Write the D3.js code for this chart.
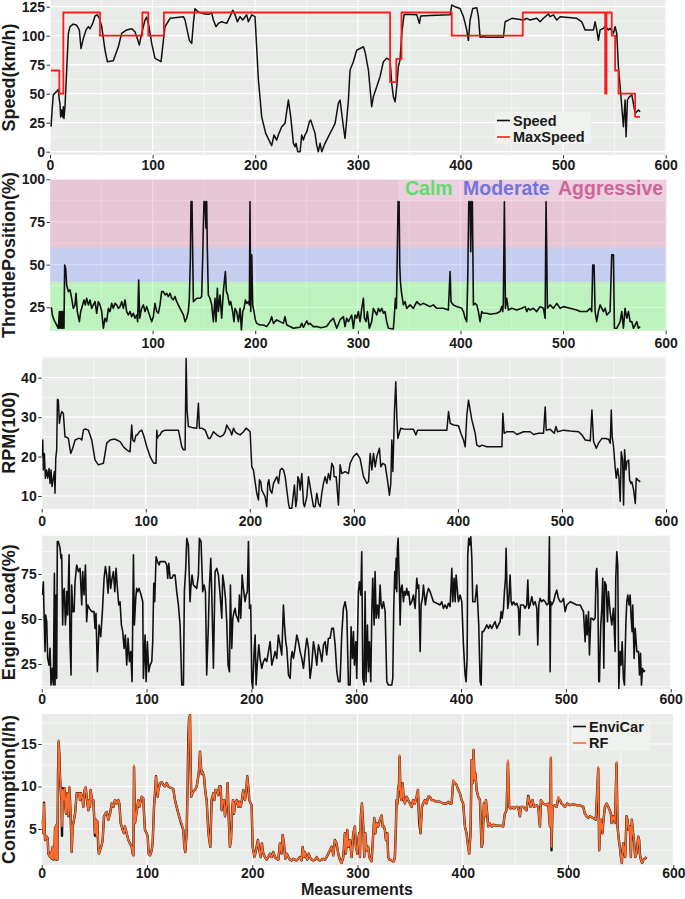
<!DOCTYPE html>
<html><head><meta charset="utf-8">
<script src="https://cdn.jsdelivr.net/npm/d3@7"></script>
<style>
body{margin:0;background:#fff}
svg{display:block}
text{font-family:"Liberation Sans",Arial,Helvetica,sans-serif;font-weight:bold}
</style>
</head><body>
<svg id="c" width="685" height="899"></svg>
<script>
// ---------------- DATA ----------------
const xTickValues = [0,100,200,300,400,500,600];
const speedTicks = [0,25,50,75,100,125];
const throttleTicks = [25,50,75,100];
const rpmTicks = [10,20,30,40];
const loadTicks = [25,50,75];
const consTicks = [5,10,15];
const drivingStyles = ["Calm","Moderate","Aggressive"];
const styleBands = [[0,40],[40,60],[60,100]];

const speed = [[1,21.5],[2.3,38.8],[3.2,49],[6.5,52],[8.1,53.7],[9.1,44.5],[9.7,41.7],[10.4,30],[11.4,36],[12.3,30],[13,38.8],[13.6,28.7],[14.6,38.8],[17.9,102],[19.5,107.8],[22.7,110],[26,109],[28.6,105],[30.2,89],[32.5,97.7],[35.1,105],[37.4,107.8],[39,106],[41.6,110.6],[43.9,117],[46.1,118],[48.1,115],[50.4,107.8],[53.6,87.6],[55.9,77.6],[61.7,78.4],[66.6,90.5],[69.8,102],[74.7,105],[79.6,106],[82.8,103.4],[84.5,99],[87.1,92],[89.3,102],[92.6,113.5],[94.2,116],[96.5,107.8],[99.1,93.4],[102.3,80.5],[105.6,79],[108.2,77.6],[110.5,96],[112.1,107.8],[117,115],[130,116.4],[131.6,113.5],[135.8,96],[138.1,93.4],[139.7,110.6],[141.3,123.3],[144.6,120.4],[149.4,119],[154.3,118.4],[157.6,119.5],[159.2,113.5],[161.8,107.8],[164.1,110.6],[167.3,112],[172.2,110.6],[175.4,116.4],[178,122],[180.3,118],[182.6,112],[185.2,116.4],[187.8,113.5],[191.7,118],[193.3,112],[196.6,118],[199.8,116.4],[203.1,61.8],[206.3,30],[210.2,15.8],[216,5.2],[218.3,14.4],[220.9,10],[222.5,14.4],[225.8,21.5],[229,24.4],[232.3,44.5],[234.6,30],[237.2,7.2],[238.8,4.3],[239.8,7.2],[241.4,0],[243.7,0],[245.3,14.4],[246.9,10],[248.5,14.4],[250.2,17],[252.8,25.9],[254,27.3],[258.3,15.8],[259.9,5.7],[261.5,0],[263.2,7.2],[264.8,0],[268,7.2],[271.3,13],[276.2,21.5],[277.8,24.4],[281,41.7],[282.7,44.5],[285.9,21.5],[287.5,11.5],[290.8,44.5],[292.4,70.4],[295.6,77.6],[298.9,87.6],[302.1,89],[305.4,90.5],[307,86.2],[310.3,70.4],[313.5,38.8],[315.1,47.4],[318.4,56],[321.6,64.7],[324.9,77.6],[328.1,80.5],[331.4,79],[333,59],[334.6,47.4],[336.3,43],[337.9,56],[339.5,73.3],[341.1,79],[342.8,102],[345,118],[347.6,118.4],[357.4,118],[360,110.6],[361.3,117],[370.4,117.5],[389.9,118],[391.5,126.4],[394.7,125],[399.6,123.5],[402.9,116.4],[406.1,105],[407.7,96],[409.4,113.5],[412,123.5],[415.9,124],[417.5,116.4],[419.1,98.6],[422.4,99],[425.6,98.6],[441.8,98.6],[443.5,112],[446.7,113.5],[450,115],[461.3,113.5],[464.6,115],[467.8,113.5],[474.3,115],[477.6,112],[480.8,115],[485.7,118.7],[487.3,116.4],[490.6,118],[493.8,113.5],[497.1,116.4],[513.3,115],[518.2,112],[521.4,105],[529.6,105],[531.2,112],[532.8,105],[534.4,96],[536.1,105],[539.3,106.3],[541,107.8],[544.2,105],[545.8,106.3],[549.1,102],[550.7,107.8],[552.3,102],[553.9,73.3],[555.6,56],[557.2,38.8],[558.8,21.5],[560.4,44.5],[561.4,12.9],[562.7,44.5],[564.7,47.4],[567,49],[570.2,33],[573.4,36],[575.1,34.5]];

const maxSpeed = [[1,70],[9.1,70],[9.1,50],[13,50],[13,120],[48.7,120],[48.7,100],[90,100],[90,120],[95.8,120],[95.8,100],[111,100],[111,120],[331.4,120],[331.4,60],[337.5,60],[337.5,80],[342.5,80],[342.5,120],[391.5,120],[391.5,100],[460.7,100],[460.7,120],[541,120],[541,50],[542.3,50],[542.3,120],[547.4,120],[547.4,100],[550.7,100],[550.7,70],[554,70],[554,50],[570.2,50],[570.2,30],[575,30]];

const throttle = [[1,25],[1.5,24.4],[2.3,20.5],[3.9,17.6],[6.5,14.6],[8.1,12.7],[9.1,22.5],[9.7,12.7],[10.4,22.5],[11,12.7],[11.7,22.5],[12.3,12.7],[13,22.5],[13.6,12.7],[14.3,49.8],[15.3,47.9],[16.2,38.1],[17.9,34.2],[19.5,35.2],[21.1,30.3],[22.7,24.4],[24.4,26.4],[25.3,33.2],[26.6,22.5],[28.6,16.6],[29.9,22.5],[31.8,26.4],[33.1,29.3],[34.4,26.4],[35.7,30.3],[37.4,26.4],[39,29.3],[40.6,24.4],[42.2,26.4],[43.9,28.3],[45.5,21.5],[47.1,28.3],[48.7,26.4],[50.4,22.5],[52,12.7],[53.6,18.6],[55.2,16.6],[56.9,24.4],[58.5,22.5],[60.1,27.3],[61.7,24.4],[63.4,27.3],[65,26.4],[66.6,24.4],[68.2,25.4],[69.9,28.3],[71.5,24.4],[73.1,29.3],[74.7,22.5],[76.3,20.5],[78,22.5],[79.6,19.5],[81.2,21.5],[82.8,18.6],[84.5,20.5],[85.4,16.6],[86.4,41],[87.4,18.6],[89.3,24.4],[91,26.4],[92.6,22.5],[94.2,25.4],[95.8,22.5],[97.5,19.5],[99.1,16.6],[100.7,19.5],[102.3,27.3],[104,22.5],[105.6,21.5],[107.2,26.4],[108.8,34.2],[110.5,34.2],[112.1,32.2],[113.7,33.2],[115.3,31.3],[117,33.2],[118.6,30.3],[120.2,29.3],[121.8,31.3],[123.5,28.3],[126.7,24.4],[130,20.5],[131.6,16.6],[133.2,18.6],[133.9,20.5],[134.8,22.5],[135.8,30.3],[136.8,53.7],[137.4,86.9],[138.4,86.9],[139.1,53.7],[139.7,28.3],[143,30.3],[146.2,30.3],[147.8,31.3],[148.8,53.7],[149.4,71.3],[150.1,86.9],[151.1,86.9],[152,71.3],[152.7,86.9],[153.3,59.6],[154.3,32.2],[155.9,30.3],[157.6,26.4],[159.2,16.6],[160.8,30.3],[161.8,16.6],[163.1,36.1],[164.1,22.5],[165.7,32.2],[167.3,18.6],[168.9,34.2],[169.9,40],[170.9,45.9],[171.9,34.2],[173.2,32.2],[174.8,26.4],[176.1,28.3],[178,22.5],[179.3,16.6],[180.3,24.4],[181.9,22.5],[183.6,16.6],[185.2,24.4],[186.5,11.7],[187.8,22.5],[189.1,24.4],[190.4,29.3],[191.7,27.3],[193.3,28.3],[194.3,26.4],[194.9,86.9],[195.6,22.5],[196.6,55.7],[197.5,26.4],[198.8,22.5],[200.1,17.6],[201.4,15.6],[204.7,14.6],[207.9,14.6],[211.2,13.7],[214.4,16.6],[216,19.5],[217.7,15.6],[220.9,17.6],[224.2,16.6],[227.4,15.6],[229,19.5],[230.7,14.6],[233.9,13.7],[237.2,12.7],[240.4,13.1],[243.7,13.3],[245.3,15.6],[246.9,13.3],[250.2,17],[251.8,15],[253.4,15.6],[256.7,13.7],[259.9,13.7],[263.2,13.1],[266.4,13.3],[269.7,13.9],[272.9,16.6],[276.1,18.6],[279.4,12.7],[282.6,17.6],[285.9,19.5],[287.5,13.7],[289.1,18.6],[290.8,16.6],[294,20.5],[295.6,12.7],[297.3,20.5],[298.9,18.6],[300.5,22.5],[302.1,16.6],[303.8,24.4],[305.4,30.3],[306.4,18.6],[308,16.6],[309.3,22.5],[311.2,12.7],[313.5,16.6],[315.1,24.4],[318.4,20.5],[320,24.4],[321.6,22.5],[323.3,24.4],[324.9,21.5],[326.5,22.5],[328.1,16.6],[329.8,12.7],[334.6,12.3],[335.6,20.5],[336.6,30.3],[337.6,24.4],[338.5,59.6],[339.2,86.9],[340.2,86.9],[340.8,49.8],[341.5,40],[342.4,34.2],[344.4,26.4],[346,28.3],[347.6,24.4],[350.9,26.4],[354.1,24.4],[357.4,28.3],[360.6,26.4],[363.9,27.3],[367.1,26.4],[370.4,25.4],[373.6,26.4],[376.9,24.4],[383.4,24.4],[388.2,23.4],[389.9,45.9],[390.8,28.3],[393.1,26.4],[396.4,25.4],[401.2,24.4],[402.9,22.5],[404.5,18.6],[406.1,16.6],[407.1,42],[408.1,86.9],[409.4,86.9],[410,57.6],[410.7,86.9],[411.6,86.9],[412.6,26.4],[414.2,27.3],[415.9,26.4],[417.5,22.5],[419.1,16.6],[420.7,22.5],[422.4,21.5],[425.6,21.5],[428.9,20.9],[435.4,21.5],[438.6,22.5],[440.2,25.4],[441.2,22.5],[441.8,28.3],[442.8,86.9],[443.8,24.4],[445.1,30.3],[446.7,23.4],[450,24.4],[454.8,23.4],[459.7,24.4],[463,25.4],[464.6,22.5],[466.2,24.4],[467.8,23.4],[471.1,24.4],[474.3,22.5],[477.6,25.4],[480.8,24.4],[482.5,18.6],[483.4,86.9],[484.1,55.7],[484.7,24.4],[487.3,26.4],[490.6,24.4],[493.8,27.3],[497.1,24.4],[500.3,25.4],[506.8,24.4],[513.3,23.4],[516.6,22.5],[523.1,22.5],[526.3,24.4],[527.9,22.5],[528.9,49.8],[530.2,49.8],[531.2,22.5],[532.8,16.6],[534.4,22.5],[536.1,26.4],[539.3,22.5],[541,24.4],[542.6,20.5],[545.8,22.5],[547.4,55.7],[549.1,55.7],[550,12.7],[552.3,12.7],[555.6,16.6],[557.2,22.5],[558.8,12.7],[560.4,24.4],[562.1,18.6],[563.7,22.5],[565.3,16.6],[567,16.6],[568.6,12.7],[570.2,14.6],[571.8,16.6],[573.4,12.7],[575.1,13.7]];

const rpm = [[0.5,20],[1,24.2],[1.6,16.6],[2.6,20.8],[3.5,14.5],[4.8,16.6],[5.8,14.5],[7.1,17],[8,13.2],[9,16.6],[9.9,12.4],[11.2,14.5],[12.2,16.2],[12.8,10.7],[13.5,19.5],[14.4,21.7],[15.1,34.5],[16,34.3],[17,28.4],[17.9,30.1],[19.2,31.4],[20.8,31],[22.4,25],[24,24.9],[25.6,24.6],[27.9,20.8],[29.8,22.1],[32.1,24.2],[35.3,24.6],[36.9,24.6],[38.5,24.2],[40.1,26.7],[41.7,27],[44.9,26.7],[48.1,24.2],[51.3,19.1],[54.5,17.9],[59.3,18.3],[60.9,20.8],[62.5,23.4],[65.7,24.2],[68.9,24.4],[70.5,24.4],[72.1,24.2],[75.3,23.8],[78.5,22.5],[81.7,21.7],[84.9,21.2],[86.5,28],[87.5,24.2],[89.1,23.8],[90.7,25.5],[92,25.5],[93.9,26.3],[96.2,26.7],[98.4,25],[101,22.5],[104.2,20],[106.7,18.7],[108,18.3],[109.9,18.3],[110.6,26.7],[111.2,24.6],[112.2,25.2],[113.8,25.5],[115.4,26.3],[118.6,26.7],[123.4,26.7],[128.2,26.7],[131.4,26.7],[133,24.6],[134.6,22.5],[136.2,21.7],[137.8,21.7],[138.8,44.9],[139.7,31.8],[141,27.6],[144.2,27.4],[149,27.2],[150.6,33.5],[151.6,27.2],[153.8,27.2],[157.1,26.7],[160.3,24.6],[161.9,24.6],[165.1,26.3],[168.3,25.5],[171.5,25],[174.7,25.5],[176.3,26.3],[177.9,28],[179.5,27.2],[181.1,26.7],[182.7,25.5],[184.3,27.2],[185.9,26.3],[187.5,25.9],[190.7,25.5],[193.9,26.3],[196.5,27.2],[198.7,26.7],[200.3,26.3],[201.9,17.4],[203.5,16.6],[205.1,13.6],[206.7,10.7],[208.3,9],[209.3,14.1],[210.6,13.6],[211.5,11.5],[213.1,10.7],[214.7,9.8],[216.3,7.3],[217.3,13.2],[218.3,14.1],[219.6,11.5],[221.2,10.7],[222.8,13.2],[224.4,14.1],[226,14.9],[227.6,13.2],[229.2,16.6],[230.8,17],[232.4,16.6],[234,14.9],[235.6,11.5],[237.2,8.1],[238.1,6.9],[240.4,6.9],[242,10.7],[242.9,12.8],[244.2,7.3],[245.2,9],[246.2,14.9],[247.4,14.1],[248.4,11.5],[250,15.7],[251.6,8.1],[252.6,7.3],[254.8,9.8],[256.4,14.9],[258,12.4],[259.6,9.8],[261.2,7.3],[262.8,7.3],[264.4,10.7],[266,8.1],[267.6,7.3],[269.2,10.7],[270.8,13.2],[272.4,14.9],[274,13.2],[275.6,15.7],[277.2,14.1],[278.8,18.3],[280.4,17.4],[281,14.9],[283,14.9],[285.2,7.7],[286.8,17.9],[288.4,15.7],[291.6,16.2],[294.8,15.7],[296.4,18.3],[299.6,20],[302.8,20.8],[306,19.5],[309.3,14.9],[312.5,13.2],[314.1,13.6],[315.7,20.8],[317.3,16.6],[318.9,20.8],[320.5,17.4],[322.1,20],[324.6,22.1],[325.9,17.4],[327.8,18.3],[330.1,17.9],[332.3,14.1],[334.2,10.2],[335.5,13.2],[336.5,24.2],[337.5,16.2],[339.1,31.8],[340.3,39],[341.3,30.1],[342.3,24.6],[343.2,25.5],[345.1,27.2],[347.7,27],[357.3,26.9],[359.6,25.5],[361.2,26.7],[366.9,26.7],[389.4,26.7],[391,31.4],[392.6,28.4],[395.8,28],[400.6,27.8],[402.8,25.9],[405.4,24.2],[407,22.5],[408.6,30.5],[410.2,34.3],[411.8,31.8],[413.4,29.3],[416.6,25.9],[418.2,22.9],[420.8,22.5],[423,22.9],[427.8,22.5],[437.5,22.5],[442.3,22.5],[443.2,31],[444.5,25.9],[447.1,26.3],[453.5,26.3],[456.7,25.6],[463.1,26.3],[469.5,26.3],[472.7,25.6],[477.5,25.9],[482.3,25.9],[483.9,32.6],[484.9,26.7],[488.7,26.9],[492.6,25.9],[494.2,27.6],[495.8,26.3],[501.6,26.7],[508,26.5],[516,26.3],[519.2,25.5],[522.4,24.2],[527.2,24],[528.8,31.8],[530.4,23.8],[533,22.1],[535.2,23.4],[538.4,24.6],[541.6,24.6],[544.8,24.4],[546.4,23.4],[547.4,31.8],[548.3,25],[549.6,22.5],[551.2,17],[552.2,14.5],[553.5,17],[554.8,14.5],[556,8.6],[557,21.2],[558.3,19.1],[559.2,7.7],[560.2,21.7],[561.5,16.6],[562.4,18.7],[564.1,19.1],[565,14.1],[566.3,13.2],[567.2,13.6],[568.9,11.5],[570.5,8.1],[571.4,14.5],[573,14.1],[575.3,13.6]];

const engineLoad = [[0.6,63.3],[1.6,70.7],[2.2,54.1],[3.2,31.9],[3.8,52.2],[4.8,48.5],[5.7,28.1],[7,24.4],[8,33.7],[8.9,13.3],[10.2,22.6],[11.1,13.3],[12.1,75.4],[12.7,13.3],[13.7,63.3],[14.3,17],[14.9,93],[15.9,93],[17.5,89.3],[18.4,83.7],[19.1,85.6],[20,46.7],[20.7,65.2],[21.6,67],[22.6,46.7],[23.2,52.2],[23.9,65.2],[24.8,52.2],[26.1,85.6],[27,37.4],[28,18.9],[28.6,68.9],[29.6,54.1],[30.9,54.1],[31.8,70.7],[33.4,80],[35,76.3],[36.6,78.1],[38.2,57.8],[39.1,76.3],[40.4,63.3],[41.7,80],[42.9,48.5],[43.9,57.8],[45.5,55.9],[47.7,54.1],[49.9,54.1],[50.9,44.8],[51.8,53.1],[53.1,20.7],[54.7,46.7],[56.3,40.2],[57.9,54.1],[59.5,72.6],[60.8,79.1],[62,74.4],[63.3,64.3],[64.6,79.1],[65.8,67],[67.1,72.6],[68.4,76.3],[69.7,65.2],[70.9,78.1],[72.2,67],[73.5,57.8],[74.7,59.6],[76,46.7],[77.3,43],[78.6,33.7],[79.8,41.1],[81.1,24.4],[82.4,39.3],[83.7,26.3],[84.9,31.9],[86.2,15.2],[87.5,85.6],[88.4,46.7],[89.7,61.5],[90.6,67],[91.6,65.2],[92.9,67],[93.8,65.2],[94.8,63.3],[96.4,59.6],[97,17],[98.6,41.1],[99.6,15.2],[100.8,37.4],[102.1,20.7],[103.4,24.4],[105,26.3],[105.9,37.4],[106.9,69.8],[107.8,59.6],[109.1,84.6],[110.4,81.9],[112,80],[112.9,81.9],[114.5,81.9],[116.1,81.9],[117.7,81.9],[119.3,80],[120.2,72.6],[121.2,80.9],[122.5,72.6],[124,72.6],[125.6,74.4],[127.2,74.4],[128.8,65.2],[130.4,57.8],[132,46.7],[133.6,13.3],[135.2,13.3],[136.1,65.2],[137.4,78.1],[138.4,94.8],[139.9,91.1],[141.5,59.6],[142.2,67],[143.4,74.4],[144.7,68.9],[146.3,68],[147.9,67],[149.5,74.4],[150.4,94.8],[152,93],[153.6,65.2],[154.9,68.9],[156.2,65.2],[157.4,18.9],[159,46.7],[159.9,67],[161.3,83.7],[162.2,65.2],[163.8,22.6],[165.4,76.3],[167,78.1],[168.6,74.4],[170.2,63.3],[171.8,50.4],[172.7,74.4],[174,68.9],[175.3,61.5],[176.5,48.5],[177.8,24.4],[179.1,20.7],[180,68.9],[181.3,33.7],[182.3,50.4],[183.5,54.1],[184.5,55.9],[185.4,52.2],[186.7,50.4],[187.7,48.5],[188.6,63.3],[189.9,50.4],[191.2,74.4],[192.4,67],[194,59.6],[195,63.3],[196.2,65.2],[197.2,93],[198.2,55.9],[199.4,57.8],[200.4,15.2],[201.3,11.5],[202.6,31.9],[203.6,41.1],[204.5,13.3],[205.8,26.3],[207.1,35.6],[208.3,28.1],[209.9,22.6],[211.5,26.3],[213.1,28.1],[214.7,26.3],[216.3,31.9],[217.9,37.4],[219.5,24.4],[221.1,28.1],[222.6,31.9],[224.2,28.1],[225.8,41.1],[227.4,35.6],[229,30],[230.6,57.8],[231.6,46.7],[232.8,37.4],[233.8,33.7],[235.4,18.9],[237,17],[237.9,28.1],[238.9,31.9],[240.1,28.1],[241.7,33.7],[243.3,41.1],[244.9,37.4],[246.5,31.9],[248.1,28.1],[249.7,22.6],[251.3,31.9],[252.9,39.3],[254.5,33.7],[256,17],[257.6,24.4],[259.2,37.4],[260.8,31.9],[262.4,24.4],[264,35.6],[265.6,31.9],[267.2,26.3],[268.8,35.6],[270.4,37.4],[271.9,30],[273.5,39.3],[275.1,39.3],[276.7,44.8],[278.3,44.8],[279.9,35.6],[281.5,20.7],[283,15.2],[284.6,15.2],[286.2,41.1],[287.8,55.9],[289.4,59.6],[291,54.1],[292.6,13.3],[294.2,13.3],[295.1,45.7],[296.4,28.1],[297.4,43],[298.3,24.4],[299.6,37.4],[300.5,17],[302.1,65.2],[303.1,70.7],[304.4,63.3],[305.3,87.4],[306.3,17],[307.5,13.3],[308.5,65.2],[309.4,15.2],[310.7,46.7],[311.7,20.7],[312.6,37.4],[313.9,15.2],[314.9,54.1],[315.8,72.6],[317.1,46.7],[318,76.3],[319,50.4],[320.3,57.8],[321.5,50.4],[322.8,68.9],[323.8,57.8],[324.7,55.9],[326,59.6],[327.6,54.1],[329.2,15.2],[330.8,13.3],[332.3,13.3],[333.9,13.3],[334.9,17],[335.8,55.9],[336.8,76.3],[337.4,67],[338.1,83.7],[338.7,65.2],[339.3,89.3],[340,94.8],[340.6,80],[341.2,68.9],[341.9,46.7],[342.8,67],[343.8,68.9],[345.1,59.6],[346,65.2],[347,63.3],[348.2,67],[349.2,63.3],[350.1,65.2],[351.4,57.8],[353,59.6],[354.6,63.3],[356.2,55.9],[357.8,72.6],[358.7,67],[359.7,68.9],[361,31.9],[361.9,57.8],[363.2,61.5],[364.1,68.9],[365.1,63.3],[366,57.8],[367.3,63.3],[368.9,67],[370.5,65.2],[372.1,62.4],[373.7,59.6],[376.9,58.7],[380,57.8],[381.6,59.6],[383.2,55.9],[384.8,57.8],[386.4,55.9],[388,58.7],[389.6,56.9],[391.2,78.1],[392.1,59.6],[393.4,72.6],[394.4,59.6],[395.3,74.4],[396.6,65.2],[397.5,59.6],[399.1,63.3],[400.7,59.6],[402.3,35.6],[403.9,18.9],[404.8,15.2],[405.8,28.1],[406.4,85.6],[407.4,94.8],[408.3,91.1],[409.3,95.7],[410.3,83.7],[411.2,59.6],[413.4,59.6],[415,68.9],[416,57.8],[416.9,46.7],[418.2,15.2],[419.2,13.3],[420.1,43],[421.4,43],[423,44.8],[424.6,46.7],[426.2,44.8],[427.7,46.7],[429.3,44.8],[430.9,46.7],[432.5,48.5],[434.1,44.8],[435.7,46.7],[437.3,48.5],[438.2,54.1],[439.2,50.4],[440.5,55.9],[441.4,65.2],[442.4,72.6],[443,89.3],[443.6,72.6],[444.6,55.9],[445.5,59.6],[446.8,74.4],[447.8,59.6],[448.7,57.8],[450,59.6],[451.6,57.8],[453.2,58.7],[454.8,55.9],[455.7,41.1],[456.7,57.8],[457.9,57.8],[459.5,57.8],[461.1,55.9],[462.7,57.8],[463.7,71.7],[464.6,55.9],[465.9,57.8],[467.5,62.4],[469.1,57.8],[470.7,59.6],[472.3,55.9],[473.2,35.6],[474.2,57.8],[475.4,61.5],[477,59.6],[478.6,60.6],[480.2,59.6],[481.8,57.8],[483.4,58.7],[484.3,95.7],[485,20.7],[485.6,59.6],[486.6,57.8],[488.2,59.6],[489.7,63.3],[491.3,66.1],[492.9,61.5],[494.5,59.6],[496.1,59.6],[497.7,61.5],[499.3,54.1],[500.9,57.8],[504.1,59.6],[507.2,58.7],[510.4,57.8],[513.6,57.8],[515.2,55.9],[516.8,54.1],[518.4,37.4],[519.3,52.2],[520.3,41.1],[521.6,54.1],[522.5,30],[523.8,50.4],[525,50.4],[526.3,49.4],[527.9,50.4],[528.9,76.3],[529.5,78.1],[530.5,65.2],[531.4,15.2],[532,15.2],[533.3,46.7],[534.3,55.9],[535.2,72.6],[536.2,22.6],[537.1,70.7],[538.4,68.9],[539.7,48.5],[540.6,65.2],[542.2,54.1],[543.8,46.7],[545.4,55.9],[547,31.9],[547.6,72.6],[548.6,87.4],[549.5,80],[550.5,11.5],[551.8,31.9],[552.7,24.4],[553.7,37.4],[554.9,17],[555.9,13.3],[557.2,46.7],[558.1,59.6],[559.1,63.3],[560.3,57.8],[561.3,63.3],[562.3,50.4],[563.2,43],[563.8,57.8],[565.1,28.1],[566.1,44.8],[567.7,31.9],[569.3,31.9],[570.2,18.9],[571.2,31],[572.1,13.3],[573.1,22.6],[574.3,20.7],[575.6,21.5]];

const consX = [0.6,1.6,2.2,3.2,4.7,5.7,6.3,7.9,8.9,9.5,10.4,11.1,12,12.7,13.3,14.2,14.9,15.5,16.1,16.8,17.4,18,18.7,19.3,19.9,20.6,21.2,21.8,22.5,23.1,23.7,24.4,25.3,26.3,26.9,27.5,28.5,29.4,30.7,31.7,33.2,35.8,36.4,37.4,38.3,39.6,40.8,41.8,42.7,43.4,44.3,45,45.9,46.5,47.8,49.1,50.6,51.6,52.2,52.9,53.8,54.4,55.4,57,57.9,59.2,60.5,61.7,63.3,64.9,66.5,68.1,69.6,71.2,72.8,73.8,75,76,76.9,78.2,79.1,80.7,82.3,83.9,85.5,86.4,87.1,87.7,88.6,89.6,90.9,91.8,92.8,93.4,95,96.5,97.2,98.1,99.7,100.7,101.6,102.9,104.5,105.4,106.7,107.6,108.6,109.2,110.2,110.8,112.4,114,115.5,117.1,118.7,120.3,121.9,123.5,125,126.6,128.2,129.8,131.4,132.9,134.5,135.5,136.4,137.7,138.7,139.3,139.9,140.9,141.5,142.1,143.1,144,145.6,147.2,148.8,149.7,150.4,151.3,151.9,152.9,154.2,155.1,156.1,156.7,158.3,159.2,160.2,161.4,163,164,164.9,166.2,167.8,168.7,170,170.9,171.9,173.2,174.1,175.7,176.6,177.6,178.8,179.8,180.8,181.7,182.7,183.6,185.2,186.8,187.7,189,190.2,191.5,192.5,193.1,194,195.3,196.3,197.2,198.5,199.4,200.4,201,202,202.9,204.2,205.4,206.7,208,209.2,210.5,212.1,213.7,215.3,216.8,218.4,220,221.6,223.2,224.8,226.3,227.9,228.9,230.1,231.4,232.7,234.3,235.8,237.4,239,240.6,242.2,243.7,245.3,246.9,247.9,249.1,250.1,251,252.3,253.6,254.8,256.4,258,259.6,261.2,262.7,264.3,265.9,267.5,269.1,270.7,272.2,273.8,275.4,277,278.5,280.1,281.7,283.3,284.9,286.5,288,289,290.3,291.2,292.8,294.4,296,297.5,298.5,299.8,300.7,301.7,302.3,303.2,304.2,305.5,306.4,307.4,308.6,310.2,311.2,312.4,313.4,315,315.9,316.9,318.1,319.7,321.3,322.9,323.8,325.1,326,327,328.3,329.2,330.2,331.4,333.3,334.6,335.5,336.5,337.1,338.1,338.7,339.3,340,340.9,341.9,342.8,344.1,345,346.6,348.2,349.8,351.4,352.9,354.5,356.1,357.4,358.6,359.9,361.2,362.4,364,365.6,367.2,368.8,370.4,371.9,375.1,378.3,381.4,384.6,386.2,387.8,389.4,390.9,392.5,394.1,395.7,397.3,398.9,400.4,402,403.6,405.2,406.1,407.4,408.4,409.3,410.3,411.2,412.2,413.1,414.7,416.3,417.9,418.8,420.1,421.3,422,423.2,424.2,425.1,426.4,427.7,428.9,432.1,435.3,438.4,440,441.6,442.9,444.1,445.4,447.3,448.6,450.5,452.7,454.3,455.2,457.4,459,460.6,462.2,463.1,464.4,466.3,467.6,470.1,471.7,473.3,474.2,476.4,479.6,481.2,482.8,483.7,484.3,485.3,487.5,489.1,490.7,492.3,493.8,495.4,497,499.2,501.8,504.9,508.1,511.3,514.4,516,517.6,519.2,520.7,523.9,526.4,528.7,529.6,530.9,532.8,533.4,535,536.6,538.2,539.7,540.7,541.3,542.9,544.5,546.1,547,548.3,549.2,550.2,551.1,552.4,553.4,554.3,555.6,556.5,557.5,558.7,559.7,560.6,561.9,562.9,563.8,565.1,566.7,567.6,568.2,569.2,570.4,571.7,573,574.6];

const rfValues = [6.1,4.5,8,3.7,4.1,3.9,2.1,1.7,2.3,1.5,2.9,1.4,1.9,5.3,1.4,5.5,1.4,11.2,15.5,13.5,11.2,10,8.4,5.3,9.6,8.4,9.2,9.8,7.6,6.8,8.4,9.2,6.5,10,8.4,6.5,2.3,5.3,6.1,6.8,9.2,9.2,8.4,9.2,8.8,7.6,9.6,10,8.8,8,7.2,8.4,7.6,9.6,8.4,8.4,4.5,6.1,4.1,5.9,2.9,2.1,2.5,3.1,3.7,6.5,6.8,7,6.1,6.8,8,7.6,8.4,8,8.4,8,5.7,5.3,4.9,4.5,5.3,4.5,3.7,3.3,2.9,2.1,1.9,12.5,5.7,6.5,7.6,8.4,7.6,8,8.8,8.6,6.8,4.9,4.5,4.1,2.1,1.9,2.5,3.3,7.6,9.2,11.2,10,8.8,9.6,10.4,10.5,10.2,10,10.4,10,9.9,9.8,9.7,8.4,7.6,6.8,6.1,5.7,4.9,2.9,2.3,4.5,10.8,14.3,17.8,18.4,12.3,8.8,9.2,9.4,9.6,10,11.2,12.3,14.1,12.3,11.5,11.7,11.2,9.8,8.8,8.4,4.7,3.7,2.9,8.4,9.2,8.4,9.6,9.6,9,10,10,7.2,8.4,8.4,6.5,8,10.4,6.5,2.9,3.7,6.8,8.4,6.8,8,8.4,7.6,8.2,7.6,8.4,9.6,8.8,8.4,9.2,11.2,10,8.4,8,7.8,2.9,2.5,1.7,2.1,2.9,3.7,2.5,1.7,3.3,2.1,1.7,1.4,1.7,2.1,1.7,2.3,1.7,1.5,1.4,3.3,2.1,4.3,3.3,1.5,2.1,1.7,1.4,1.3,1.5,1.4,1.3,1.5,1.7,1.3,2.9,1.7,2.3,1.7,1.4,2.1,1.7,1.4,1.3,1.4,1.7,1.4,1.3,1.4,1.5,1.4,1.7,2.1,2.5,2.9,1.9,3.7,3.3,2.1,1.4,1,1.7,4.5,2.1,4.9,2.9,3.7,1.7,4.5,5.3,2.9,2.1,3.7,4.5,1.7,6.5,8,5.3,1.7,4.5,2.5,2.9,1.7,1.4,1.2,4.5,6.3,4.5,5.7,5.3,6.1,6.6,5.3,5.3,4.9,3.7,4.5,1.7,1.4,1.4,1.2,1.2,1.7,5.3,8.4,8,10,9.6,13.7,8.8,8.4,10.4,8.4,8,8.8,8.4,8,7.6,8.4,8,8.8,9.6,6.5,4.5,7.6,8,8.4,8,8.8,8.8,8.4,8.4,8.2,8.2,8,8,8.2,8,8,10.8,10.4,10.2,9.6,9.2,8.4,8,5.3,4.5,2.9,2.1,4.5,13.1,10.4,14.3,10.8,11.5,9.6,8.8,8.4,2.9,3.3,8,6.5,8.4,6.8,5.3,5.7,5.5,5.3,5.5,5.4,5.4,5.3,6.8,7.2,13.1,7.6,7.4,7.6,7.4,7.6,7.6,6.5,7.6,7.6,7.4,7.2,8.8,8.4,7.6,8.4,7.6,7.8,7.6,5.3,8.4,8,7.8,8,5.3,13.5,2.9,7.6,7.8,7.6,8.8,8.4,8,7.8,7.6,8,7.8,7.9,7.8,7.8,7.6,6.8,6.5,6.3,6.5,6.3,6.1,12.3,2.5,6.1,4.5,5.7,7.6,8,7.6,7.2,6.8,5.7,6.5,5.7,12.9,5.3,3.7,2.9,1.7,1,3.3,2.5,1.7,6.5,6.1,4.9,5.3,1.7,6.1,4.5,3.3,1.7,2.1,4.1,3.7,2.1,1.4,1,1.4,1.5,1.7];

const enviValues = [6.1,4.5,8.1,3.7,4.1,3.9,2.1,1.7,2.3,1.5,2.9,1.4,1.9,5.2,1.4,5.5,1.4,11.4,15.3,13.7,11.2,9.8,8.4,4.2,9.8,8.4,9.2,9.8,7.6,6.8,8.4,9.2,6.5,9.9,8.4,6.5,2.3,5.3,6.1,6.8,9.2,9.2,8.4,9.2,8.8,7.6,9.6,9.9,8.8,8,7.2,8.4,7.6,9.6,8.4,8.4,4.2,6.1,4.1,5.9,2.6,2.1,2.5,3.1,3.7,6.5,6.8,7,6.1,6.8,8,7.6,8.4,8,8.4,8,5.7,5.3,4.9,4.5,5.3,4.5,3.7,3.3,2.9,2.1,1.9,12.3,5.7,6.5,7.6,8.4,7.6,8,8.8,8.6,6.8,4.9,4.5,4.1,2.1,1.9,2.5,3.3,7.6,9.2,11.2,10,8.8,9.6,10.4,10.5,10.2,10,10.4,10,9.9,9.8,9.7,8.4,7.6,6.8,6.1,5.5,4.9,2.9,2.3,4.5,10.8,15.8,17.8,18.4,12.3,8.8,9.2,9.4,9.6,10,11.2,12.3,14.1,12.3,11.5,11.7,11.2,9.8,8.8,8.4,4.7,3.7,2.9,8.4,9.2,8.4,9.6,9.6,9,10,10,7.2,8.4,8.4,6.5,8,10.4,6.5,2.9,3.7,6.8,8.4,6.8,8,8.4,7.6,8.2,7.6,8.4,9.6,8.8,8.4,9.2,11.2,10,8.4,8,7.8,2.9,2.5,1.7,2.1,2.9,3.7,2.5,1.7,3.3,2.1,1.7,1.4,1.7,2.1,1.7,2.3,1.7,1.5,1.4,3.3,2.1,4.3,3.3,1.5,2.1,1.7,1.4,1.3,1.5,1.4,1.3,1.5,1.7,1.3,2.9,1.7,2.3,1.7,1.4,2.1,1.7,1.4,1.3,1.4,1.7,1.4,1.3,1.4,1.5,1.4,1.7,2.1,2.5,2.9,1.9,3.7,3.3,2.1,1.4,1,1.7,4.5,2.1,4.9,2.9,3.7,1.7,4.5,5.3,2.9,2.1,3.7,4.5,1.7,6.5,8,5.3,1.7,4.5,2.5,2.9,1.7,1.4,1.2,4.5,6.3,4.5,5.7,5.3,6.1,6.6,5.3,5.3,4.9,3.7,4.5,1.7,1.4,1.4,1.2,1.2,1.7,5.3,8.4,8,10,9.6,13.5,8.8,8.4,10.4,8.4,8,8.8,8.4,8,7.6,8.4,8,8.8,9.6,5.8,4.5,7.6,8,8.4,8,8.8,8.8,8.4,8.4,8.2,8.2,8,8,8.2,8,8,10.6,10.4,10.2,9.6,9.2,8.4,8,5.3,4.5,2.9,2.1,4.5,13.1,10.4,14.3,10.8,11.5,9.6,8.8,8.4,2.9,3.3,8,6.5,8.4,6.8,5.3,5.7,5.5,5.3,5.5,5.4,5.4,5.3,6.8,7.2,12.8,7.6,7.4,7.6,7.4,7.6,7.6,6.5,7.6,7.6,7.4,7.2,8.9,8.4,7.6,8.4,7.6,7.8,7.6,5.3,8.4,8,7.8,8,5.3,13.3,2.5,7.6,7.8,7.6,8.6,8.4,8,7.8,7.6,8,7.8,7.9,7.8,7.8,7.6,6.8,6.5,6.3,6.5,6.3,6.1,12.1,2.5,6.1,4.5,5.7,7.6,8,7.6,7.2,6.8,5.7,6.5,5.7,12.7,5.3,3.7,2.9,1.7,1,3.3,2.5,1.7,6.5,6.1,4.9,5.3,1.7,6.1,4.5,3.3,1.7,2.1,4.1,3.7,2.1,1.4,1,1.4,1.5,1.7];

// ---------------- STYLE / LAYOUT ----------------
const BG = "#e8ebe8";
const TXT = "#1a1a1a";
const svg = d3.select("#c");
const defs = svg.append("defs");

function makePanel(cfg){
  const x = d3.scaleLinear().domain([0,600]).range(cfg.xr);
  const y = d3.scaleLinear().domain(cfg.yd).range(cfg.yr);
  const [px0,px1] = cfg.px, [py0,py1] = cfg.py;
  const g = svg.append("g");
  g.append("rect").attr("x",px0).attr("y",py0).attr("width",px1-px0).attr("height",py1-py0).attr("fill",BG);
  const inY = v => y(v) >= py0 - 0.5 && y(v) <= py1 + 0.5;
  const inX = v => x(v) >= px0 - 0.5 && x(v) <= px1 + 0.5;
  const grid = g.append("g");
  cfg.yMinor.filter(inY).forEach(v=>grid.append("line").attr("x1",px0).attr("x2",px1).attr("y1",y(v)).attr("y2",y(v)).attr("stroke","#fff").attr("stroke-width",0.6));
  [50,150,250,350,450,550].filter(inX).forEach(v=>grid.append("line").attr("y1",py0).attr("y2",py1).attr("x1",x(v)).attr("x2",x(v)).attr("stroke","#fff").attr("stroke-width",0.6));
  cfg.yTicks.filter(inY).forEach(v=>grid.append("line").attr("x1",px0).attr("x2",px1).attr("y1",y(v)).attr("y2",y(v)).attr("stroke","#fff").attr("stroke-width",1.2));
  xTickValues.filter(inX).forEach(v=>grid.append("line").attr("y1",py0).attr("y2",py1).attr("x1",x(v)).attr("x2",x(v)).attr("stroke","#fff").attr("stroke-width",1.2));
  const id = "clip-" + cfg.id;
  defs.append("clipPath").attr("id",id).append("rect").attr("x",px0).attr("y",py0).attr("width",px1-px0).attr("height",py1-py0);
  const plot = g.append("g").attr("clip-path",`url(#${id})`);
  const ax = svg.append("g").attr("transform",`translate(0,${py1})`)
    .call(d3.axisBottom(x).tickValues(cfg.xTicks).tickSize(3.5).tickPadding(cfg.xPad).tickFormat(d3.format("d")));
  const ay = svg.append("g").attr("transform",`translate(${px0},0)`)
    .call(d3.axisLeft(y).tickValues(cfg.yTicks).tickSize(3.5).tickPadding(1.5).tickFormat(d3.format("d")));
  [ax,ay].forEach(a=>{
    a.select(".domain").remove();
    a.selectAll(".tick line").attr("stroke","#333").attr("stroke-width",1);
    a.selectAll(".tick text").attr("fill",TXT).style("font-size","14px").style("font-weight","bold").style("font-family","'Liberation Sans',Arial,sans-serif");
  });
  svg.append("text").attr("transform",`translate(15,${(py0+py1)/2}) rotate(-90)`)
    .attr("text-anchor","middle").attr("fill",TXT).style("font-size","18px").text(cfg.title);
  return {x,y,plot};
}

function drawLine(p, data, color, width){
  p.plot.append("path").datum(data)
    .attr("d", d3.line().x(d=>p.x(d[0])).y(d=>p.y(d[1])))
    .attr("fill","none").attr("stroke",color).attr("stroke-width",width).attr("stroke-linejoin","round");
}

// Panel 1 : speed
const p1 = makePanel({id:"speed",xr:[50,665.7],px:[50,666.5],yd:[0,125],yr:[151.7,6.7],py:[0,155],
  yTicks:speedTicks,yMinor:[12.5,37.5,62.5,87.5,112.5],xTicks:xTickValues,xPad:1.5,title:"Speed(km/h)"});
drawLine(p1, speed, "#111", 1.5);
drawLine(p1, maxSpeed, "#ff1a1a", 1.8);
const l1 = svg.append("g");
l1.append("rect").attr("x",495).attr("y",112).attr("width",96).attr("height",32).attr("fill","#f0f2f0");
[["Speed","#111",120.5],["MaxSpeed","#ff1a1a",137]].forEach(([t,c,yy])=>{
  l1.append("line").attr("x1",497).attr("x2",510).attr("y1",yy).attr("y2",yy).attr("stroke",c).attr("stroke-width",1.6);
  l1.append("text").attr("x",513).attr("y",yy+5.2).attr("fill",TXT).style("font-size","14.5px").text(t);
});

// Panel 2 : throttle
const p2 = makePanel({id:"thr",xr:[50,665.7],px:[50,666.5],yd:[25,100],yr:[307.3,179.3],py:[179.3,330.7],
  yTicks:throttleTicks,yMinor:[12.5,37.5,62.5,87.5],xTicks:xTickValues.slice(1),xPad:3.5,title:"ThrottlePosition(%)"});
const bandFill = ["rgba(98,255,98,0.32)","rgba(118,135,255,0.3)","rgba(225,112,165,0.3)"];
styleBands.forEach((b,i)=>{
  const yTop = Math.max(p2.y(b[1]),179.3), yBot = Math.min(p2.y(b[0]),330.7);
  p2.plot.append("rect").attr("x",50).attr("y",yTop).attr("width",616.5).attr("height",yBot-yTop).attr("fill",bandFill[i]);
});
drawLine(p2, throttle, "#111", 1.6);
svg.append("rect").attr("x",398).attr("y",179.5).attr("width",267).attr("height",22).attr("fill","rgba(255,235,250,0.25)");
const styleColors = ["#5fdc70","#7474dc","#cc6699"];
const styleX = [405,463,558];
drivingStyles.forEach((s,i)=>{
  svg.append("text").attr("x",styleX[i]).attr("y",194.5).attr("fill",styleColors[i]).style("font-size","19.5px").text(s);
});

// Panel 3 : rpm
const p3 = makePanel({id:"rpm",xr:[41.7,666],px:[41.7,666.5],yd:[10,40],yr:[496,377.7],py:[356.7,509],
  yTicks:rpmTicks,yMinor:[15,25,35,45],xTicks:xTickValues,xPad:4,title:"RPM(100)"});
drawLine(p3, rpm, "#111", 1.5);

// Panel 4 : engine load
const p4 = makePanel({id:"load",xr:[41.7,670.7],px:[41.7,671],yd:[25,75],yr:[664,574],py:[535.7,689],
  yTicks:loadTicks,yMinor:[12.5,37.5,62.5,87.5],xTicks:xTickValues,xPad:2,title:"Engine Load(%)"});
drawLine(p4, engineLoad, "#111", 1.6);

// Panel 5 : consumption
const p5 = makePanel({id:"cons",xr:[41.7,673.3],px:[41.7,673.5],yd:[5,15],yr:[829,744],py:[714,865],
  yTicks:consTicks,yMinor:[2.5,7.5,12.5,17.5],xTicks:xTickValues,xPad:-0.5,title:"Consumption(l/h)"});
const envi = consX.map((v,i)=>[v,enviValues[i]]);
const rf = consX.map((v,i)=>[v,rfValues[i]]);
drawLine(p5, envi, "#111", 2.4);
drawLine(p5, rf, "#ff6a2a", 1.7);
const l5 = svg.append("g");
l5.append("rect").attr("x",571.5).attr("y",719.5).attr("width",79).attr("height",31).attr("fill","#f0f2f0");
[["EnviCar","#111",726.5],["RF","#ff6a2a",743]].forEach(([t,c,yy])=>{
  l5.append("line").attr("x1",573).attr("x2",586).attr("y1",yy).attr("y2",yy).attr("stroke",c).attr("stroke-width",1.6);
  l5.append("text").attr("x",589).attr("y",yy+5.2).attr("fill",TXT).style("font-size","14.5px").text(t);
});
svg.append("text").attr("x",357).attr("y",895.3).attr("text-anchor","middle").attr("fill",TXT).style("font-size","16px").text("Measurements");
</script>
</body></html>
